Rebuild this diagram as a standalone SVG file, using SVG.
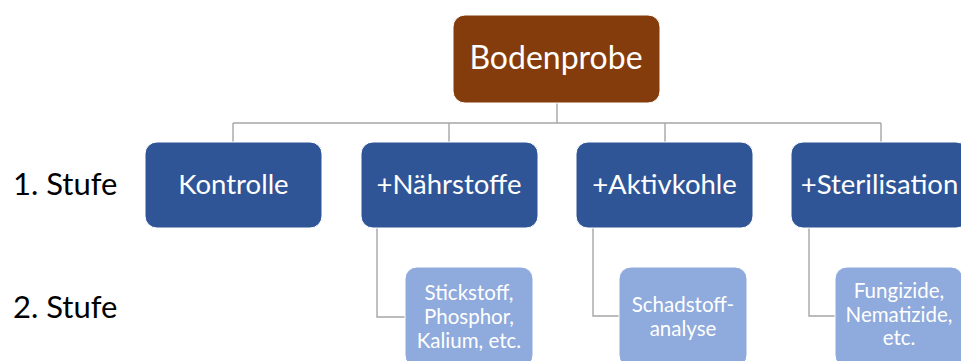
<svg xmlns="http://www.w3.org/2000/svg" width="961" height="361" viewBox="0 0 961 361">
<style>
text{font-family:Lato,"Open Sans","Liberation Sans",sans-serif;text-anchor:middle;fill:#fff}
.root{fill:#843C0C;stroke:#fff;stroke-width:1}
.l1{fill:#2F5597;stroke:#fff;stroke-width:1}
.l2{fill:#8FAADC;stroke:#fff;stroke-width:1}
.t1{font-size:27.5px}
.t2{font-size:20.5px}
.stufe{font-size:31px;fill:#000;text-anchor:start}
.conn{fill:none;stroke:#A6A6A6;stroke-width:1.4}
</style>
<rect width="961" height="361" fill="#fff"/>
<g id="connectors" class="conn">
<path d="M557 103V123M233 123H881M233 123V142M449 123V142M665 123V142M881 123V142"/>
<path d="M377 228V317H405M593 228V316H619M809 228V316H835"/>
</g>
<g id="bodenprobe"><rect class="root" x="453" y="15" width="207" height="88" rx="12"/><text x="556" y="69" style="font-size:32px">Bodenprobe</text></g>
<g id="kontrolle"><rect class="l1" x="145" y="142" width="177" height="86" rx="12"/><text class="t1" x="233.5" y="194">Kontrolle</text></g>
<g id="naehrstoffe"><rect class="l1" x="361" y="142" width="177" height="86" rx="12"/><text class="t1" x="449" y="194">+Nährstoffe</text></g>
<g id="aktivkohle"><rect class="l1" x="576" y="142" width="177" height="86" rx="12"/><text class="t1" x="664.5" y="194">+Aktivkohle</text></g>
<g id="sterilisation"><rect class="l1" x="791" y="142" width="177" height="86" rx="12"/><text class="t1" x="879.5" y="194">+Sterilisation</text></g>
<g id="stickstoff"><rect class="l2" x="405" y="267" width="128" height="100" rx="12"/><text class="t2" x="469"><tspan x="469" y="300">Stickstoff,</tspan><tspan x="469" y="324">Phosphor,</tspan><tspan x="469" y="348">Kalium, etc.</tspan></text></g>
<g id="schadstoff"><rect class="l2" x="619" y="267" width="128" height="100" rx="12"/><text class="t2" x="683"><tspan x="683" y="312">Schadstoff-</tspan><tspan x="683" y="336">analyse</tspan></text></g>
<g id="fungizide"><rect class="l2" x="835" y="267" width="128" height="100" rx="12"/><text class="t2" x="899"><tspan x="899" y="298">Fungizide,</tspan><tspan x="899" y="322">Nematizide,</tspan><tspan x="899" y="345">etc.</tspan></text></g>
<g id="stufe1"><text class="stufe" x="13" y="195">1. Stufe</text></g>
<g id="stufe2"><text class="stufe" x="13" y="318">2. Stufe</text></g>
</svg>
